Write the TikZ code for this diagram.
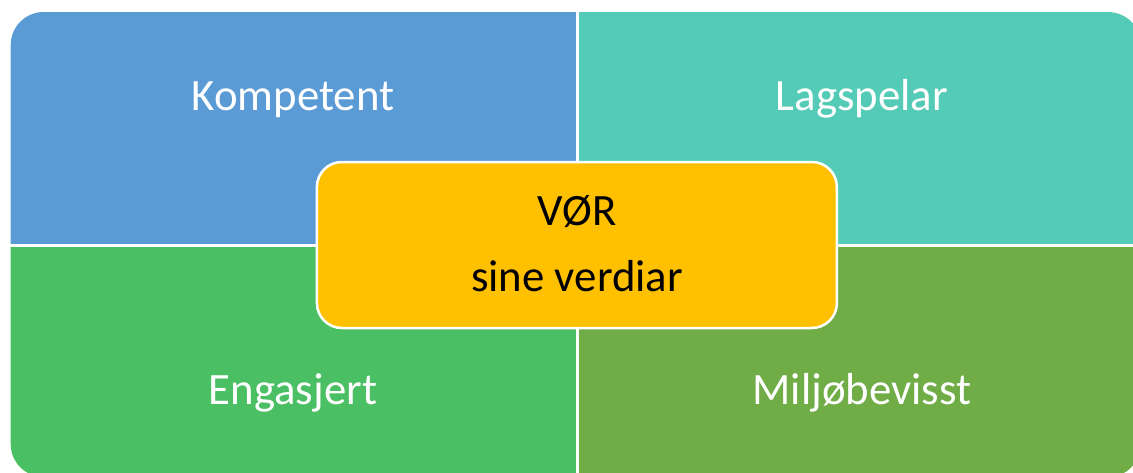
\documentclass[tikz,border=0pt]{standalone}
\usepackage{fontspec}
\setmainfont{Carlito}
\definecolor{cblue}{RGB}{91,155,213}
\definecolor{cteal}{RGB}{84,203,183}
\definecolor{cgreen}{RGB}{74,191,100}
\definecolor{colive}{RGB}{112,173,71}
\definecolor{cyellow}{RGB}{255,192,0}
\begin{document}
\begin{tikzpicture}[x=1pt,y=-1pt,
  quadtext/.style={text=white,anchor=base,inner sep=0pt,font=\fontsize{44.8}{50}\selectfont},
  centertext/.style={text=black,anchor=base,inner sep=0pt,font=\fontsize{44.8}{50}\selectfont},
  centerbox/.style={draw=white,line width=2.5pt,fill=cyellow,rounded corners=25pt,minimum width=520pt,minimum height=166pt,inner sep=0pt}]
\useasboundingbox (0,0) rectangle (1133,472);
\begin{scope}
  \clip[rounded corners=33pt] (10.7,12) rectangle (1141,477);
  \fill[cblue] (0,0) rectangle (576,244);
  \fill[cteal] (579,0) rectangle (1200,244);
  \fill[cgreen] (0,247) rectangle (576,500);
  \fill[colive] (579,247) rectangle (1200,500);
\end{scope}
\node[quadtext] (komp) at (293,110.7) {Kompetent};
\node[quadtext] (lag) at (862,110.7) {Lagspelar};
\node[quadtext] (eng) at (293,404.3) {Engasjert};
\node[quadtext] (milj) at (862,404.3) {Miljøbevisst};
\node[centerbox] (box) at (576.9,245) {};
\node[centertext] (vor) at (577,225) {VØR};
\node[centertext] (sine) at (577,291.7) {sine verdiar};
\end{tikzpicture}
\end{document}
